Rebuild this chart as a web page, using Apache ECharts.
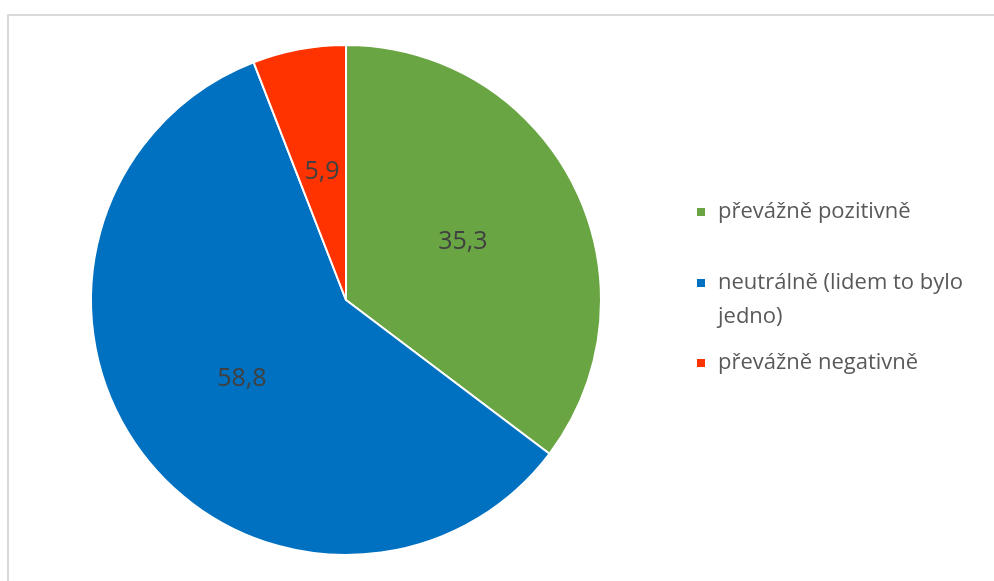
<!DOCTYPE html>
<html>
<head>
<meta charset="utf-8">
<script src="https://cdn.jsdelivr.net/npm/echarts@6/dist/echarts.min.js"></script>
<style>
  html, body { margin: 0; padding: 0; background: #ffffff; }
  #chart { width: 994px; height: 581px; }
</style>
</head>
<body>
<div id="chart"></div>
<script>
// Categories, values and colours of the pie slices
const categories = ['převážně pozitivně', 'neutrálně (lidem to bylo jedno)', 'převážně negativně'];
const values = [35.3, 58.8, 5.9];
const colors = ['#6aa544', '#0070c0', '#ff3300'];

const FONT = '"Open Sans", sans-serif';

const chart = echarts.init(document.getElementById('chart'), null, { renderer: 'canvas' });

// One legend block per entry so each row sits at its own height.
// The wrapped entry gets a leading blank line so its marker lines up with the first text line.
const legendTops = [195, 232, 346];
const legendText = ['{name}', '\nneutrálně (lidem to bylo\njedno)', '{name}'];
const legends = categories.map((name, i) => ({
  data: [name],
  orient: 'vertical',
  left: 697,
  top: legendTops[i],
  padding: 0,
  icon: 'rect',
  itemWidth: 8,
  itemHeight: 8,
  itemStyle: { borderWidth: 0 },
  selectedMode: false,
  formatter: legendText[i],
  textStyle: {
    color: '#595959',
    fontFamily: FONT,
    fontSize: 22,
    lineHeight: 34,
    padding: [0, 0, 0, 8]
  }
}));

chart.setOption({
  animation: false,
  backgroundColor: '#ffffff',
  color: colors,
  legend: legends,
  graphic: [{
    type: 'rect',
    shape: { x: 8, y: 15, width: 1000, height: 600 },
    style: { fill: 'none', stroke: '#d9d9d9', lineWidth: 2 },
    silent: true,
    z: -1
  }],
  series: [{
    type: 'pie',
    center: [346, 300],
    radius: 255,
    startAngle: 90,
    clockwise: true,
    avoidLabelOverlap: false,
    itemStyle: { borderColor: '#ffffff', borderWidth: 2 },
    label: {
      show: true,
      position: 'inside',
      formatter: (p) => String(p.value).replace('.', ','),
      color: '#404040',
      fontFamily: FONT,
      fontSize: 25
    },
    labelLine: { show: false },
    emphasis: { disabled: true },
    data: categories.map((name, i) => ({ name: name, value: values[i] }))
  }]
});
</script>
</body>
</html>
